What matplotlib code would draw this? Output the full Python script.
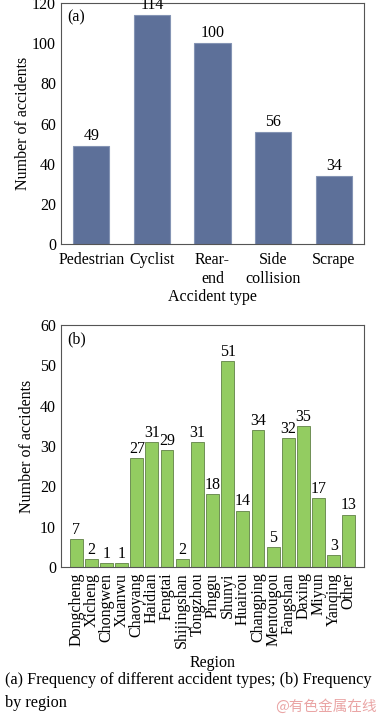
import matplotlib
matplotlib.use('Agg')
from matplotlib import pyplot as plt

# data
types = ['Pedestrian', 'Cyclist', 'Rear-\nend', 'Side\ncollision', 'Scrape']
type_counts = [49, 114, 100, 56, 34]

regions = ['Dongcheng', 'Xicheng', 'Chongwen', 'Xuanwu', 'Chaoyang', 'Haidian',
           'Fengtai', 'Shijingshan', 'Tongzhou', 'Pinggu', 'Shunyi', 'Huairou',
           'Changping', 'Mentougou', 'Fangshan', 'Daxing', 'Miyun', 'Yanqing', 'Other']
region_counts = [7, 2, 1, 1, 27, 31, 29, 2, 31, 18, 51, 14, 34, 5, 32, 35, 17, 3, 13]

plt.rcParams['font.family'] = ['Liberation Serif', 'DejaVu Serif']
plt.rcParams['font.size'] = 11

fig = plt.figure(figsize=(3.79, 7.14), dpi=100)
W, H = 379, 714

def px_axes(l, t, r, b):
    return fig.add_axes([l / W, 1 - b / H, (r - l) / W, (b - t) / H])

# (a) accident types
ax1 = px_axes(61, 3, 364, 244)
x1 = range(len(types))
ax1.bar(x1, type_counts, width=0.6, color='#5d7099', edgecolor='#8494b4', linewidth=0.8)
for i, v in zip(x1, type_counts):
    ax1.text(i, v + 1, str(v), ha='center', va='bottom', fontsize=11.5)
ax1.set_xlim(-0.5, 4.5)
ax1.set_ylim(0, 120)
ax1.set_yticks(range(0, 121, 20))
ax1.set_xticks(list(x1))
ax1.set_xticklabels(types, fontsize=11.5, linespacing=1.25)
ax1.tick_params(axis='both', length=0, labelsize=11.5)
ax1.tick_params(axis='x', pad=6)
ax1.set_xlabel('Accident type', fontsize=11.5, labelpad=1)
ax1.set_ylabel('Number of accidents', fontsize=11.5, labelpad=1)
ax1.text(0.02, 0.975, '(a)', transform=ax1.transAxes, ha='left', va='top', fontsize=11.5)
for s in ax1.spines.values():
    s.set_color('#555555')
    s.set_linewidth(0.8)

# (b) regions
ax2 = px_axes(61, 325, 364, 567)
x2 = range(len(regions))
ax2.bar(x2, region_counts, width=0.85, color='#93cc61', edgecolor='#6f8f55', linewidth=0.7)
for i, v in zip(x2, region_counts):
    ax2.text(i, v + 0.3, str(v), ha='center', va='bottom', fontsize=11.5)
ax2.set_xlim(-1, len(regions))
ax2.set_ylim(0, 60)
ax2.set_yticks(range(0, 61, 10))
ax2.set_xticks(list(x2))
ax2.set_xticklabels(regions, rotation=90, fontsize=12)
ax2.tick_params(axis='both', length=0, labelsize=11.5)
ax2.tick_params(axis='x', pad=4)
ax2.set_xlabel('Region', fontsize=11.5, labelpad=5)
ax2.set_ylabel('Number of accidents', fontsize=11.5, labelpad=4)
ax2.text(0.02, 0.975, '(b)', transform=ax2.transAxes, ha='left', va='top', fontsize=11.5)
for s in ax2.spines.values():
    s.set_color('#555555')
    s.set_linewidth(0.8)

# caption
fig.text(5 / W, 1 - 680 / H, '(a) Frequency of different accident types; (b) Frequency',
         ha='left', va='center', fontsize=11.7)
fig.text(5 / W, 1 - 703 / H, 'by region', ha='left', va='center', fontsize=11.7)
fig.text(377 / W, 1 - 707 / H, '@有色金属在线', ha='right', va='center', fontsize=10.5,
         color='#eaa5a5', family=['Noto Sans CJK SC', 'DejaVu Sans'])

fig.savefig('out.png', dpi=100)
